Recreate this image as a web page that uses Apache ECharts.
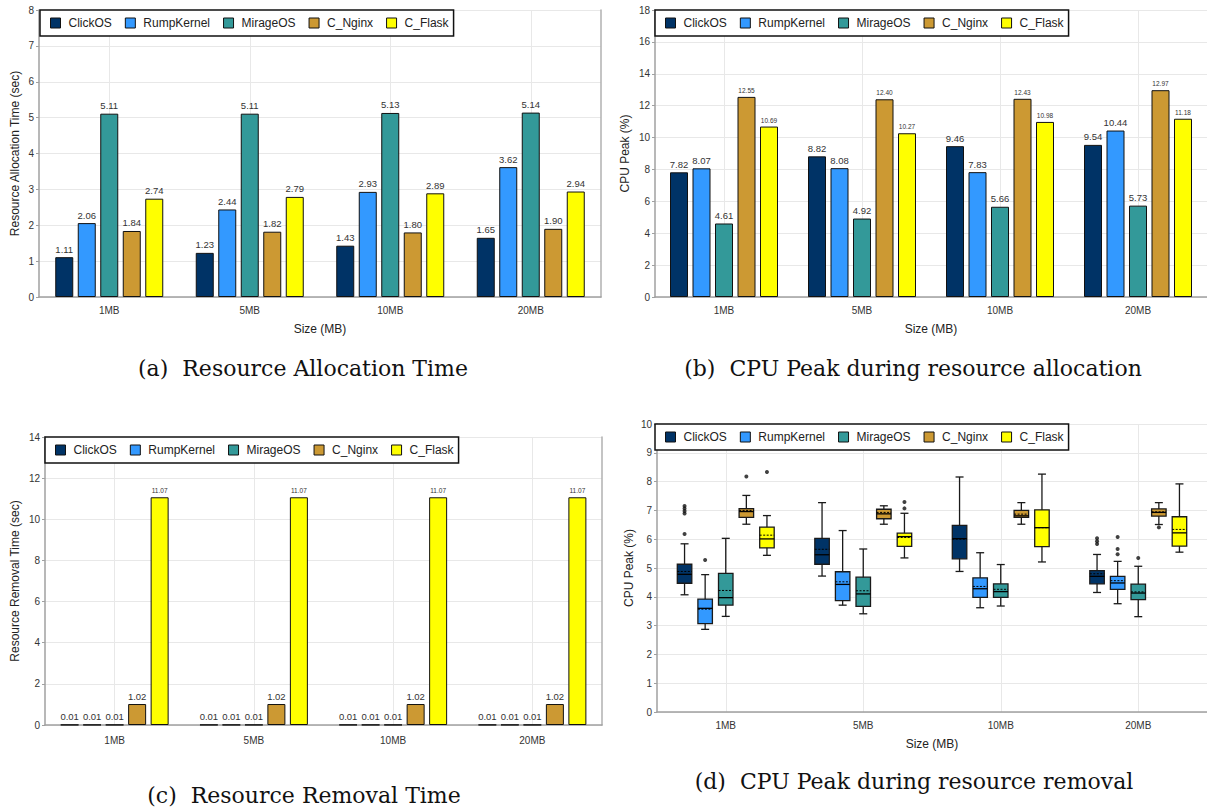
<!DOCTYPE html>
<html>
<head>
<meta charset="utf-8">
<title>Resource allocation and removal</title>
<script src="https://cdn.jsdelivr.net/npm/echarts@6/dist/echarts.min.js"></script>
<style>
	html, body { margin: 0; padding: 0; background: #fff; }
	#chart { width: 1207px; height: 808px; }
</style>
</head>
<body>
<div id="chart"></div>
<script>
	/*------------------------------- Data -------------------------------*/

	const categories = ['1MB', '5MB', '10MB', '20MB'];
	const systems = ['ClickOS', 'RumpKernel', 'MirageOS', 'C_Nginx', 'C_Flask'];

	// (a) resource allocation time (sec)
	const allocTimeClickOS = [1.11, 1.23, 1.43, 1.65];
	const allocTimeRumpKernel = [2.06, 2.44, 2.93, 3.62];
	const allocTimeMirageOS = [5.11, 5.11, 5.13, 5.14];
	const allocTimeNginx = [1.84, 1.82, 1.80, 1.90];
	const allocTimeFlask = [2.74, 2.79, 2.89, 2.94];

	// (b) cpu peak during allocation (%)
	const allocCpuClickOS = [7.82, 8.82, 9.46, 9.54];
	const allocCpuRumpKernel = [8.07, 8.08, 7.83, 10.44];
	const allocCpuMirageOS = [4.61, 4.92, 5.66, 5.73];
	const allocCpuNginx = [12.55, 12.40, 12.43, 12.97];
	const allocCpuFlask = [10.69, 10.27, 10.98, 11.18];

	// (c) resource removal time (sec)
	const removeTimeClickOS = [0.01, 0.01, 0.01, 0.01];
	const removeTimeRumpKernel = [0.01, 0.01, 0.01, 0.01];
	const removeTimeMirageOS = [0.01, 0.01, 0.01, 0.01];
	const removeTimeNginx = [1.02, 1.02, 1.02, 1.02];
	const removeTimeFlask = [11.07, 11.07, 11.07, 11.07];

	// (d) cpu peak during removal: [min, q1, median, q3, max, mean] per size
	const removeCpuClickOS = [
		[4.07, 4.47, 4.78, 5.13, 5.84, 4.88],
		[4.72, 5.13, 5.46, 6.03, 7.27, 5.65],
		[4.88, 5.32, 6.02, 6.48, 8.16, 6.00],
		[4.15, 4.45, 4.71, 4.91, 5.47, 4.80]
	];
	const removeCpuRumpKernel = [
		[2.87, 3.07, 3.60, 3.92, 4.77, 3.57],
		[3.71, 3.87, 4.43, 4.87, 6.30, 4.52],
		[3.62, 3.98, 4.28, 4.66, 5.53, 4.36],
		[3.76, 4.26, 4.48, 4.71, 5.23, 4.56]
	];
	const removeCpuMirageOS = [
		[3.32, 3.71, 3.97, 4.81, 6.03, 4.22],
		[3.41, 3.67, 4.10, 4.68, 5.66, 4.21],
		[3.68, 3.98, 4.18, 4.45, 5.12, 4.26],
		[3.31, 3.90, 4.13, 4.44, 5.06, 4.17]
	];
	const removeCpuNginx = [
		[6.52, 6.76, 6.96, 7.06, 7.52, 7.00],
		[6.52, 6.71, 6.88, 7.04, 7.16, 6.93],
		[6.52, 6.76, 6.81, 7.00, 7.27, 6.87],
		[6.51, 6.80, 6.93, 7.05, 7.27, 6.95]
	];
	const removeCpuFlask = [
		[5.44, 5.70, 6.01, 6.42, 6.82, 6.14],
		[5.35, 5.75, 6.09, 6.21, 6.90, 6.06],
		[5.21, 5.74, 6.40, 7.02, 8.26, 6.40],
		[5.55, 5.76, 6.22, 6.78, 7.92, 6.34]
	];

	// (d) outliers: [size index, value]
	const outliersClickOS = [[0, 6.18], [0, 6.89], [0, 6.98], [0, 7.07], [0, 7.15], [3, 5.83], [3, 5.93], [3, 6.03]];
	const outliersRumpKernel = [[0, 5.28], [3, 5.48], [3, 5.66], [3, 6.08]];
	const outliersMirageOS = [[3, 5.35]];
	const outliersNginx = [[0, 8.18], [3, 6.41]];
	const outliersFlask = [[0, 8.33], [1, 7.07], [1, 7.29]];

	/*------------------------------- Style -------------------------------*/

	const colors = ['#003366', '#3399ff', '#339999', '#cc9933', '#ffff00'];
	const sans = '"Liberation Sans", Arial, sans-serif';
	const serif = '"DejaVu Serif", serif';
	const boxOffsets = [-41.2, -20.6, 0, 20.6, 41.2];

	let chart = echarts.init(document.getElementById('chart'), null, { renderer: 'svg' });

	function makeXAxis(gridIndex, showName, labelMargin){
		return {
			type: 'category',
			gridIndex: gridIndex,
			data: categories,
			name: showName ? 'Size (MB)' : '',
			nameLocation: 'middle',
			nameGap: 26,
			nameTextStyle: { fontSize: 12, color: '#222', fontFamily: sans },
			axisLine: { lineStyle: { color: '#a0a0a0', width: 1.5 } },
			axisTick: { alignWithLabel: true, length: 4, lineStyle: { color: '#a0a0a0' } },
			axisLabel: { fontSize: 10, color: '#333', fontFamily: sans, margin: labelMargin },
			splitLine: { show: true, alignWithLabel: true, lineStyle: { color: '#e8e8e8' } }
		};
	}

	function makeYAxis(gridIndex, name, max, interval, nameGap){
		return {
			type: 'value',
			gridIndex: gridIndex,
			min: 0,
			max: max,
			interval: interval,
			name: name,
			nameLocation: 'middle',
			nameGap: nameGap,
			nameTextStyle: { fontSize: 12, color: '#222', fontFamily: sans },
			axisLine: { show: true, lineStyle: { color: '#a0a0a0', width: 1.5 } },
			axisTick: { show: true, length: 3, lineStyle: { color: '#a0a0a0' } },
			axisLabel: { fontSize: 10, color: '#333', fontFamily: sans, margin: 5 },
			splitLine: { show: true, lineStyle: { color: '#e8e8e8' } }
		};
	}

	function makeRightBorder(gridIndex, max){
		return {
			type: 'value', gridIndex: gridIndex, position: 'right', min: 0, max: max,
			axisLine: { show: true, lineStyle: { color: '#b0b0b0', width: 1.5 } },
			axisTick: { show: false }, axisLabel: { show: false }, splitLine: { show: false }
		};
	}

	function makeLegend(left, top){
		return {
			data: systems,
			left: left,
			top: top,
			icon: 'rect',
			itemWidth: 10,
			itemHeight: 10,
			itemGap: 13,
			padding: [6, 5, 6, 10],
			borderColor: '#111',
			borderWidth: 1.5,
			borderRadius: 0,
			backgroundColor: '#fff',
			selectedMode: false,
			itemStyle: { borderColor: '#111', borderWidth: 1 },
			textStyle: { fontSize: 12, color: '#222', fontFamily: sans, padding: [0, 0, 0, 3], lineHeight: 14 }
		};
	}

	function barSeries(idx, axisIndex, values, labelSize){
		return {
			name: systems[idx],
			type: 'bar',
			xAxisIndex: axisIndex,
			yAxisIndex: axisIndex,
			data: values,
			barWidth: 18,
			barGap: '25%',
			itemStyle: { color: colors[idx], borderColor: '#111', borderWidth: 1 },
			label: {
				show: true,
				position: 'top',
				distance: 3,
				fontSize: labelSize,
				color: '#333',
				fontFamily: sans,
				formatter: function(p){ return p.value.toFixed(2); }
			}
		};
	}

	function renderBox(offset){
		return function(params, api){
			let cat = api.value(0);
			let x = api.coord([cat, 0])[0] + offset;
			let yAt = function(i){ return api.coord([cat, api.value(i)])[1]; };
			let lo = yAt(1), q1 = yAt(2), med = yAt(3), q3 = yAt(4), hi = yAt(5), mean = yAt(6);
			let half = 7.25, cap = 4;
			let ink = { stroke: '#1a1a1a', lineWidth: 1.3 };
			return {
				type: 'group',
				children: [
					{ type: 'line', shape: { x1: x, y1: hi, x2: x, y2: lo }, style: ink },
					{ type: 'line', shape: { x1: x - cap, y1: hi, x2: x + cap, y2: hi }, style: ink },
					{ type: 'line', shape: { x1: x - cap, y1: lo, x2: x + cap, y2: lo }, style: ink },
					{ type: 'rect', shape: { x: x - half, y: q3, width: half * 2, height: q1 - q3 },
						style: { fill: api.visual('color'), stroke: '#1a1a1a', lineWidth: 1.3 } },
					{ type: 'line', shape: { x1: x - half, y1: med, x2: x + half, y2: med }, style: { stroke: '#000', lineWidth: 1.3 } },
					{ type: 'line', shape: { x1: x - half, y1: mean, x2: x + half, y2: mean },
						style: { stroke: '#000', lineWidth: 1, lineDash: [2, 1.5] } }
				]
			};
		};
	}

	function boxSeries(idx, rows){
		return {
			name: systems[idx],
			type: 'custom',
			xAxisIndex: 3,
			yAxisIndex: 3,
			itemStyle: { color: colors[idx], borderColor: '#111', borderWidth: 1 },
			encode: { x: 0, y: [1, 2, 3, 4, 5, 6] },
			data: rows.map(function(r, i){ return [i].concat(r); }),
			renderItem: renderBox(boxOffsets[idx]),
			z: 3
		};
	}

	function outlierSeries(idx, points){
		return {
			name: systems[idx] + ' outliers',
			type: 'scatter',
			xAxisIndex: 3,
			yAxisIndex: 3,
			data: points,
			symbolSize: 4,
			symbolOffset: [boxOffsets[idx], 0],
			itemStyle: { color: '#111' },
			z: 4
		};
	}

	function caption(text, x, y){
		return {
			type: 'text',
			x: x,
			y: y,
			style: { text: text, font: '22px ' + serif, fill: '#111', textAlign: 'center', textVerticalAlign: 'middle' }
		};
	}

	/*------------------------------- Option -------------------------------*/

	let option = {
		animation: false,
		grid: [
			{ left: 39, top: 10, width: 562, height: 287 },
			{ left: 655, top: 10, width: 557, height: 287 },
			{ left: 45, top: 437, width: 557, height: 288 },
			{ left: 657, top: 424, width: 551, height: 288 }
		],
		legend: [
			makeLegend(40, 10),
			makeLegend(655, 10),
			makeLegend(45, 437),
			makeLegend(655, 424)
		],
		xAxis: [
			makeXAxis(0, true, 8),
			makeXAxis(1, true, 8),
			makeXAxis(2, false, 10),
			makeXAxis(3, true, 8)
		],
		yAxis: [
			makeYAxis(0, 'Resource Allocation Time (sec)', 8, 1, 18),
			makeYAxis(1, 'CPU Peak (%)', 18, 2, 24),
			makeYAxis(2, 'Resource Removal Time (sec)', 14, 2, 24),
			makeYAxis(3, 'CPU Peak (%)', 10, 1, 22),
			makeRightBorder(0, 8),
			makeRightBorder(2, 14)
		],
		series: [
			barSeries(0, 0, allocTimeClickOS, 9.5),
			barSeries(1, 0, allocTimeRumpKernel, 9.5),
			barSeries(2, 0, allocTimeMirageOS, 9.5),
			barSeries(3, 0, allocTimeNginx, 9.5),
			barSeries(4, 0, allocTimeFlask, 9.5),

			barSeries(0, 1, allocCpuClickOS, 9.5),
			barSeries(1, 1, allocCpuRumpKernel, 9.5),
			barSeries(2, 1, allocCpuMirageOS, 9.5),
			barSeries(3, 1, allocCpuNginx, 6.5),
			barSeries(4, 1, allocCpuFlask, 6.5),

			barSeries(0, 2, removeTimeClickOS, 9.5),
			barSeries(1, 2, removeTimeRumpKernel, 9.5),
			barSeries(2, 2, removeTimeMirageOS, 9.5),
			barSeries(3, 2, removeTimeNginx, 9.5),
			barSeries(4, 2, removeTimeFlask, 6.5),

			boxSeries(0, removeCpuClickOS),
			boxSeries(1, removeCpuRumpKernel),
			boxSeries(2, removeCpuMirageOS),
			boxSeries(3, removeCpuNginx),
			boxSeries(4, removeCpuFlask),

			outlierSeries(0, outliersClickOS),
			outlierSeries(1, outliersRumpKernel),
			outlierSeries(2, outliersMirageOS),
			outlierSeries(3, outliersNginx),
			outlierSeries(4, outliersFlask)
		],
		graphic: [
			caption('(a)  Resource Allocation Time', 303, 368),
			caption('(b)  CPU Peak during resource allocation', 913, 368),
			caption('(c)  Resource Removal Time', 304, 795),
			caption('(d)  CPU Peak during resource removal', 914, 781)
		]
	};

	chart.setOption(option);
</script>
</body>
</html>
